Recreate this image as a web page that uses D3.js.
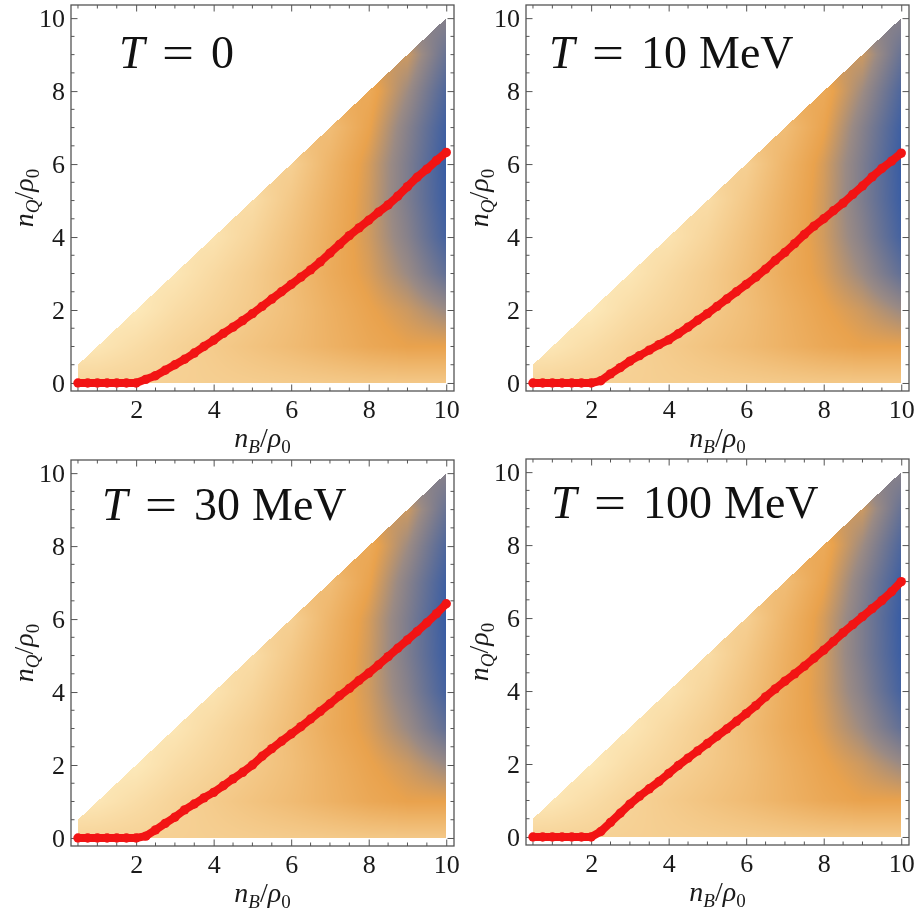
<!DOCTYPE html>
<html><head><meta charset="utf-8">
<script src="https://cdn.jsdelivr.net/npm/d3@7"></script>
<style>
body{margin:0;background:#fff;}
#wrap{position:relative;width:921px;height:910px;}
canvas,svg{position:absolute;left:0;top:0;}
</style></head><body>
<div id="wrap"><canvas id="cv" width="921" height="910"></canvas><svg id="sv" width="921" height="910"></svg></div>
<script>
// ---- data ----
const titleNumbers = ["0", "10", "30", "100"];
const titleUnits = ["", "MeV", "MeV", "MeV"];
const nB = [0.5,0.75,1,1.25,1.5,1.75,2,2.25,2.5,2.75,3,3.25,3.5,3.75,4,4.25,4.5,4.75,5,5.25,5.5,5.75,6,6.25,6.5,6.75,7,7.25,7.5,7.75,8,8.25,8.5,8.75,9,9.25,9.5,9.75,10];
const nQ_T0   = [0,0,0,0,0,0,0,0.1,0.2,0.35,0.5,0.65,0.82,1.0,1.17,1.36,1.53,1.71,1.9,2.1,2.3,2.5,2.7,2.9,3.1,3.32,3.56,3.8,4.04,4.25,4.46,4.68,4.88,5.12,5.38,5.64,5.86,6.1,6.32];
const nQ_T10  = [0,0,0,0,0,0,0,0.06,0.25,0.42,0.6,0.75,0.9,1.05,1.18,1.35,1.53,1.72,1.9,2.1,2.3,2.5,2.7,2.9,3.12,3.36,3.58,3.82,4.07,4.3,4.5,4.72,4.93,5.17,5.4,5.65,5.88,6.08,6.3];
const nQ_T30  = [0,0,0,0,0,0,0,0.05,0.22,0.4,0.57,0.77,0.93,1.1,1.25,1.43,1.62,1.8,2.0,2.24,2.45,2.65,2.85,3.05,3.26,3.47,3.68,3.9,4.1,4.32,4.52,4.74,4.97,5.2,5.43,5.66,5.9,6.15,6.42];
const nQ_T100 = [0,0,0,0,0,0,0,0.15,0.4,0.65,0.9,1.12,1.32,1.52,1.74,1.96,2.16,2.36,2.56,2.76,2.96,3.17,3.38,3.6,3.84,4.06,4.27,4.47,4.68,4.9,5.12,5.36,5.6,5.82,6.04,6.26,6.48,6.72,7.0];
const xTicks = [2,4,6,8,10];
const yTicks = [0,2,4,6,8,10];
// density field sampled on a 1x1 grid (rows: nQ = 0..10, cols: nB = 0..10)
const gridNB = [0,1,2,3,4,5,6,7,8,9,10];
const gridNQ = [0,1,2,3,4,5,6,7,8,9,10];
const field = [
 [0.18,0.19,0.20,0.21,0.22,0.23,0.24,0.25,0.26,0.26,0.26],
 [0.05,0.07,0.13,0.19,0.24,0.29,0.34,0.40,0.46,0.50,0.50],
 [0.05,0.05,0.05,0.13,0.19,0.25,0.32,0.41,0.49,0.56,0.66],
 [0.06,0.06,0.06,0.07,0.15,0.23,0.33,0.44,0.53,0.66,0.84],
 [0.09,0.09,0.09,0.09,0.09,0.18,0.30,0.43,0.55,0.72,0.93],
 [0.13,0.13,0.13,0.13,0.13,0.13,0.26,0.41,0.55,0.75,0.96],
 [0.21,0.21,0.21,0.21,0.21,0.21,0.21,0.38,0.54,0.75,0.97],
 [0.33,0.33,0.33,0.33,0.33,0.33,0.33,0.33,0.49,0.72,0.95],
 [0.45,0.45,0.45,0.45,0.45,0.45,0.45,0.45,0.45,0.65,0.90],
 [0.56,0.56,0.56,0.56,0.56,0.56,0.56,0.56,0.56,0.56,0.82],
 [0.72,0.72,0.72,0.72,0.72,0.72,0.72,0.72,0.72,0.72,0.72]
];
const colorStops = [0, 0.5, 0.66, 1];
const colorRange = ["#fff1c6", "#e9a24d", "#9a8a84", "#2f58a7"];
const series = [nQ_T0, nQ_T10, nQ_T30, nQ_T100];

// ---- layout ----
const panels = [
  {left:71, top:5, tx:119, ty:68},
  {left:526, top:5, tx:549, ty:68},
  {left:71, top:460, tx:102, ty:520},
  {left:526, top:459, tx:551, ty:518}
];
const FW = 383, FH = 386;
const FONT = "'Liberation Serif', 'DejaVu Serif', serif";

const color = d3.scaleLinear().domain(colorStops).range(colorRange).interpolate(d3.interpolateRgb).clamp(true);
const gx = d3.scaleLinear().domain([gridNB[0], gridNB[gridNB.length-1]]).range([0, gridNB.length-1]);
const gy = d3.scaleLinear().domain([gridNQ[0], gridNQ[gridNQ.length-1]]).range([0, gridNQ.length-1]);
function fieldAt(b, q) {
  const fx = Math.max(0, Math.min(gridNB.length-1.0001, gx(b)));
  const fy = Math.max(0, Math.min(gridNQ.length-1.0001, gy(q)));
  const i = Math.floor(fx), j = Math.floor(fy);
  const u = fx - i, v = fy - j;
  const a = field[j][i], b1 = field[j][i+1], c = field[j+1][i], d = field[j+1][i+1];
  return a*(1-u)*(1-v) + b1*u*(1-v) + c*(1-u)*v + d*u*v;
}

const cv = document.getElementById("cv");
const ctx = cv.getContext("2d");
const img = ctx.createImageData(921, 910);
const svg = d3.select("#sv");

panels.forEach((p, k) => {
  const x = d3.scaleLinear().domain([0.32, 10.2]).range([p.left, p.left + FW]);
  const y = d3.scaleLinear().domain([-0.22, 10.36]).range([p.top + FH, p.top]);
  const x0 = Math.round(x(0.5)), x1 = Math.round(x(10));
  const y0 = Math.round(y(10)), y1 = Math.round(y(0));
  for (let py = y0; py < y1; py++) {
    for (let px = x0; px < x1; px++) {
      const b = x.invert(px + 0.5), q = y.invert(py + 0.5);
      if (q > b || q < 0) continue;
      const c = d3.rgb(color(fieldAt(b, q)));
      const idx = (py * 921 + px) * 4;
      img.data[idx] = c.r; img.data[idx+1] = c.g; img.data[idx+2] = c.b; img.data[idx+3] = 255;
    }
  }

  const g = svg.append("g");
  g.append("rect").attr("x", p.left).attr("y", p.top).attr("width", FW).attr("height", FH)
    .attr("fill", "none").attr("stroke", "#555").attr("stroke-width", 1.3);
  const minorX = d3.range(0.5, 10.01, 0.5).filter(v => v % 2 !== 0);
  const minorY = d3.range(0, 10.01, 0.5).filter(v => v % 2 !== 0);
  const tickG = g.append("g").attr("stroke", "#555").attr("stroke-width", 1);
  minorX.forEach(v => {
    tickG.append("line").attr("x1", x(v)).attr("x2", x(v)).attr("y1", p.top+FH).attr("y2", p.top+FH-3.5);
    tickG.append("line").attr("x1", x(v)).attr("x2", x(v)).attr("y1", p.top).attr("y2", p.top+3.5);
  });
  minorY.forEach(v => {
    tickG.append("line").attr("y1", y(v)).attr("y2", y(v)).attr("x1", p.left).attr("x2", p.left+3.5);
    tickG.append("line").attr("y1", y(v)).attr("y2", y(v)).attr("x1", p.left+FW).attr("x2", p.left+FW-3.5);
  });
  const ax = g.append("g").attr("transform", `translate(0,${p.top+FH})`)
    .call(d3.axisBottom(x).tickValues(xTicks).tickSize(-6.5).tickPadding(9).tickFormat(d3.format("d")));
  const axT = g.append("g").attr("transform", `translate(0,${p.top})`)
    .call(d3.axisTop(x).tickValues(xTicks).tickSize(-6.5).tickFormat(""));
  const ay = g.append("g").attr("transform", `translate(${p.left},0)`)
    .call(d3.axisLeft(y).tickValues(yTicks).tickSize(-6.5).tickPadding(6).tickFormat(d3.format("d")));
  const ayR = g.append("g").attr("transform", `translate(${p.left+FW},0)`)
    .call(d3.axisRight(y).tickValues(yTicks).tickSize(-6.5).tickFormat(""));
  [ax, axT, ay, ayR].forEach(a => {
    a.select(".domain").remove();
    a.selectAll(".tick line").attr("stroke", "#555").attr("stroke-width", 1);
    a.selectAll("text").attr("font-family", FONT).attr("font-size", 26).attr("fill", "#1a1a1a");
  });
  ay.selectAll("text").attr("dy", "0.34em");

  // red curve
  const pts = nB.map((b, i) => [b, series[k][i]]);
  g.append("path").datum(pts)
    .attr("d", d3.line().x(d => x(d[0])).y(d => y(d[1])))
    .attr("fill", "none").attr("stroke", "#f21414").attr("stroke-width", 8).attr("stroke-linejoin", "round");
  g.selectAll("circle.pt").data(pts).join("circle").attr("class", "pt")
    .attr("cx", d => x(d[0])).attr("cy", d => y(d[1])).attr("r", 4.7).attr("fill", "#f21414");

  // title: T = value [MeV]
  const tg = g.append("g").attr("font-family", FONT).attr("font-size", 46).attr("fill", "#111");
  tg.append("text").attr("x", p.tx).attr("y", p.ty).attr("font-style", "italic").text("T");
  tg.append("text").attr("x", p.tx + 43).attr("y", p.ty).attr("textLength", 32)
    .attr("lengthAdjust", "spacingAndGlyphs").text("=");
  const num = tg.append("text").attr("x", p.tx + 92).attr("y", p.ty).text(titleNumbers[k]);
  if (titleUnits[k]) {
    const w = num.node().getComputedTextLength();
    tg.append("text").attr("x", p.tx + 92 + w + 12).attr("y", p.ty).text(titleUnits[k]);
  }

  // axis titles
  const xt = g.append("text").attr("x", p.left + FW/2).attr("y", p.top + 442)
    .attr("text-anchor", "middle").attr("font-family", FONT).attr("font-size", 28).attr("fill", "#1a1a1a");
  xt.append("tspan").attr("font-style", "italic").text("n");
  xt.append("tspan").attr("font-style", "italic").attr("font-size", 19).attr("dy", 6).text("B");
  xt.append("tspan").attr("dy", -6).text("/");
  xt.append("tspan").attr("font-style", "italic").text("ρ");
  xt.append("tspan").attr("font-size", 19).attr("dy", 6).text("0");

  const yt = g.append("text").attr("transform", `translate(${p.left - 38},${p.top + FH/2}) rotate(-90)`)
    .attr("text-anchor", "middle").attr("font-family", FONT).attr("font-size", 28).attr("fill", "#1a1a1a");
  yt.append("tspan").attr("font-style", "italic").text("n");
  yt.append("tspan").attr("font-style", "italic").attr("font-size", 19).attr("dy", 6).text("Q");
  yt.append("tspan").attr("dy", -6).text("/");
  yt.append("tspan").attr("font-style", "italic").text("ρ");
  yt.append("tspan").attr("font-size", 19).attr("dy", 6).text("0");
});
ctx.putImageData(img, 0, 0);
</script>
</body></html>
